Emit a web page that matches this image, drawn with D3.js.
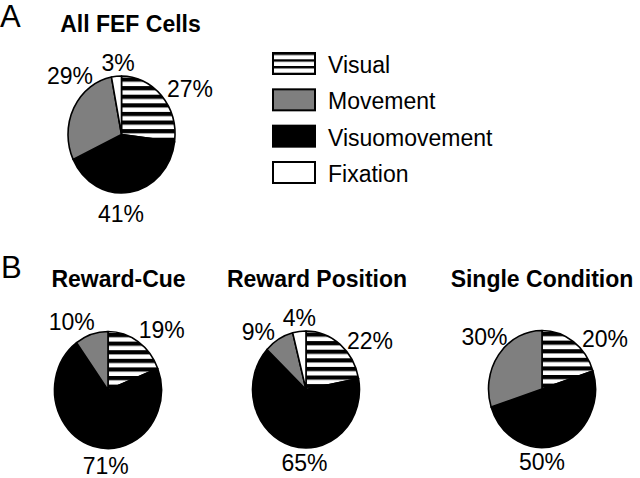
<!DOCTYPE html>
<html>
<head>
<meta charset="utf-8">
<script src="https://cdn.jsdelivr.net/npm/d3@7"></script>
<style>
  body { margin: 0; background: #fff; }
  text { font-family: "Liberation Sans", Arial, sans-serif; fill: #000; }
</style>
</head>
<body>
<div id="chart"></div>
<script>
// data
var categories = ["Visual", "Movement", "Visuomovement", "Fixation"];
var panels = ["All FEF Cells", "Reward-Cue", "Reward Position", "Single Condition"];
var visual = [27, 19, 22, 20];
var movement = [29, 10, 9, 30];
var visuomovement = [41, 71, 65, 50];
var fixation = [3, 0, 4, 0];

// order of slices going clockwise from 12 o'clock
var sliceOrder = ["Visual", "Visuomovement", "Movement", "Fixation"];

var svgWidth = 640;
var svgHeight = 478;

// layout
var centers = [[121.5, 134.5], [108, 390], [306, 389.5], [542, 389]];
var titlePos = [[130.5, 32], [118.5, 287], [317, 287], [542, 287]];
// label offsets from pie centre (x = text centre, y = baseline), by category
var labelOffsets = [
  {Visual: [68.5, -37.5], Visuomovement: [-0.5, 87.5], Movement: [-51.5, -51], Fixation: [-3.5, -63.5]},
  {Visual: [53.7, -51.7], Visuomovement: [-2.2, 83.5], Movement: [-36.3, -60]},
  {Visual: [64, -41], Visuomovement: [-1.5, 81.5], Movement: [-47.7, -50], Fixation: [-6.7, -63.5]},
  {Visual: [63, -42.3], Visuomovement: [0, 81], Movement: [-57.5, -44]}
];
var rx = 53.5, ry = 58.5;

var fills = {
  "Visual": "url(#stripes)",
  "Movement": "#7f7f7f",
  "Visuomovement": "#000",
  "Fixation": "#fff"
};

var svg = d3.select("#chart")
  .append("svg")
  .attr("width", svgWidth)
  .attr("height", svgHeight);

var defs = svg.append("defs");
var pat = defs.append("pattern")
  .attr("id", "stripes")
  .attr("patternUnits", "userSpaceOnUse")
  .attr("width", 10)
  .attr("height", 8.6)
  .attr("patternTransform", "translate(0,-57)");
pat.append("rect").attr("width", 10).attr("height", 8.6).attr("fill", "#fff");
pat.append("rect").attr("width", 10).attr("height", 4.2).attr("fill", "#000");

var patL = defs.append("pattern")
  .attr("id", "stripesLegend")
  .attr("patternUnits", "userSpaceOnUse")
  .attr("width", 10)
  .attr("height", 6.7)
  .attr("patternTransform", "translate(0,59.3)");
patL.append("rect").attr("width", 10).attr("height", 6.7).attr("fill", "#fff");
patL.append("rect").attr("width", 10).attr("height", 2.4).attr("fill", "#000");

// panel letters
svg.append("text").attr("x", 0).attr("y", 27).attr("font-size", 31).text("A");
svg.append("text").attr("x", 1).attr("y", 278).attr("font-size", 31).text("B");

var pie = d3.pie()
  .sort(null)
  .value(function(d) { return d.value; });

var arc = d3.arc()
  .innerRadius(0)
  .outerRadius(ry);

panels.forEach(function(title, i) {
  var values = {
    "Visual": visual[i],
    "Movement": movement[i],
    "Visuomovement": visuomovement[i],
    "Fixation": fixation[i]
  };
  var data = sliceOrder.map(function(c) { return {cat: c, value: values[c]}; })
    .filter(function(d) { return d.value > 0; });

  var g = svg.append("g")
    .attr("transform", "translate(" + centers[i][0] + "," + centers[i][1] + ")");

  var pg = g.append("g")
    .attr("transform", "scale(" + (rx / ry) + ",1)");

  pg.selectAll("path")
    .data(pie(data))
    .enter()
    .append("path")
    .attr("d", arc)
    .attr("fill", function(d) { return fills[d.data.cat]; })
    .attr("stroke", "#000")
    .attr("stroke-width", 1.6)
    .attr("stroke-linejoin", "round")
    .attr("vector-effect", "non-scaling-stroke");

  g.selectAll("text.pct")
    .data(data)
    .enter()
    .append("text")
    .attr("class", "pct")
    .attr("x", function(d) { return labelOffsets[i][d.cat][0]; })
    .attr("y", function(d) { return labelOffsets[i][d.cat][1]; })
    .attr("text-anchor", "middle")
    .attr("font-size", 23)
    .text(function(d) { return d.value + "%"; });

  svg.append("text")
    .attr("x", titlePos[i][0])
    .attr("y", titlePos[i][1])
    .attr("text-anchor", "middle")
    .attr("font-size", 23)
    .attr("font-weight", "bold")
    .text(title);
});

// legend
var legendFills = {
  "Visual": "url(#stripesLegend)",
  "Movement": "#7f7f7f",
  "Visuomovement": "#000",
  "Fixation": "#fff"
};
var legendY = d3.scalePoint()
  .domain(categories)
  .range([53, 162]);

var legend = svg.append("g");
categories.forEach(function(c) {
  legend.append("rect")
    .attr("x", 273)
    .attr("y", legendY(c))
    .attr("width", 42)
    .attr("height", 21)
    .attr("fill", legendFills[c])
    .attr("stroke", "#000")
    .attr("stroke-width", 2);
  legend.append("text")
    .attr("x", 328)
    .attr("y", legendY(c) + 20)
    .attr("font-size", 23)
    .text(c);
});
</script>
</body>
</html>
